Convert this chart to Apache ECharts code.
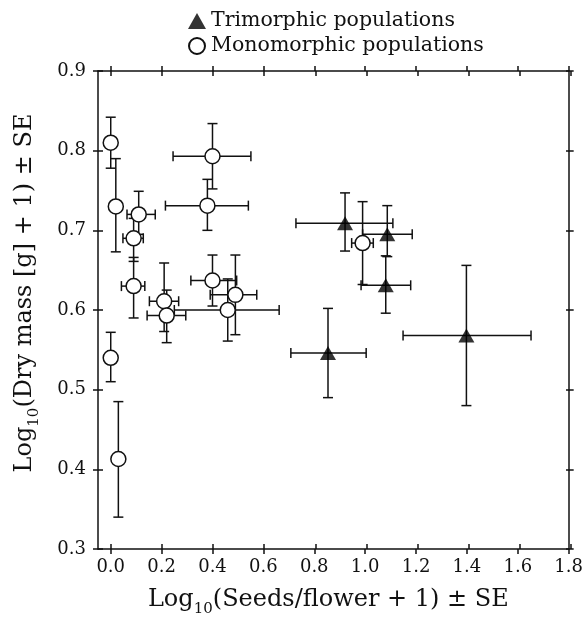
<!DOCTYPE html>
<html>
<head>
<meta charset="utf-8">
<script src="https://cdn.jsdelivr.net/npm/echarts@6/dist/echarts.min.js"></script>
<style>html,body{margin:0;padding:0;background:#fff}#c{width:586px;height:636px}</style>
</head>
<body>
<div id="c"></div>
<script>
// Tick values
var xTicks = [0.0, 0.2, 0.4, 0.6, 0.8, 1.0, 1.2, 1.4, 1.6, 1.8];
var yTicks = [0.3, 0.4, 0.5, 0.6, 0.7, 0.8, 0.9];

// Monomorphic populations (open circles)
var monoX   = [0.00, 0.02, 0.11, 0.09, 0.09, 0.00, 0.03, 0.21, 0.22, 0.40, 0.49, 0.46, 0.38, 0.40, 0.99];
var monoY   = [0.810, 0.730, 0.720, 0.690, 0.630, 0.540, 0.413, 0.611, 0.593, 0.637, 0.619, 0.600, 0.731, 0.793, 0.684];
var monoXLo = [0.00, 0.02, 0.064, 0.048, 0.042, 0.00, 0.03, 0.152, 0.143, 0.315, 0.391, 0.25, 0.215, 0.245, 0.947];
var monoXHi = [0.00, 0.02, 0.175, 0.128, 0.134, 0.00, 0.03, 0.267, 0.295, 0.495, 0.574, 0.662, 0.541, 0.551, 1.032];
var monoYLo = [0.778, 0.673, 0.695, 0.661, 0.590, 0.510, 0.340, 0.573, 0.559, 0.605, 0.569, 0.561, 0.700, 0.752, 0.632];
var monoYHi = [0.842, 0.790, 0.749, 0.715, 0.666, 0.572, 0.485, 0.659, 0.625, 0.669, 0.669, 0.639, 0.764, 0.834, 0.736];

// Trimorphic populations (filled triangles)
var triX   = [0.921, 1.087, 1.081, 1.398, 0.854];
var triY   = [0.709, 0.695, 0.631, 0.568, 0.546];
var triXLo = [0.728, 0.990, 0.984, 1.149, 0.708];
var triXHi = [1.109, 1.185, 1.179, 1.652, 1.004];
var triYLo = [0.674, 0.667, 0.596, 0.480, 0.490];
var triYHi = [0.747, 0.731, 0.668, 0.656, 0.602];

var seriesNames = ['Trimorphic populations', 'Monomorphic populations'];

function rows(x, y, xl, xh, yl, yh) {
  return x.map(function (v, i) { return [v, y[i], xl[i], xh[i], yl[i], yh[i]]; });
}
var monoRows = rows(monoX, monoY, monoXLo, monoXHi, monoYLo, monoYHi);
var triRows = rows(triX, triY, triXLo, triXHi, triYLo, triYHi);

var INK = '#111';
var FONT = 'DejaVu Serif';
var CAP = 5;

function errRender(params, api) {
  var x = api.value(0), y = api.value(1);
  var xl = api.value(2), xh = api.value(3), yl = api.value(4), yh = api.value(5);
  var st = { stroke: INK, lineWidth: 1.5, fill: null };
  var ch = [];
  function seg(a, b) { ch.push({ type: 'line', shape: { x1: a[0], y1: a[1], x2: b[0], y2: b[1] }, style: st }); }
  if (yh > yl) {
    var p1 = api.coord([x, yl]), p2 = api.coord([x, yh]);
    seg(p1, p2);
    seg([p1[0] - CAP, p1[1]], [p1[0] + CAP, p1[1]]);
    seg([p2[0] - CAP, p2[1]], [p2[0] + CAP, p2[1]]);
  }
  if (xh > xl) {
    var q1 = api.coord([xl, y]), q2 = api.coord([xh, y]);
    seg(q1, q2);
    seg([q1[0], q1[1] - CAP], [q1[0], q1[1] + CAP]);
    seg([q2[0], q2[1] - CAP], [q2[0], q2[1] + CAP]);
  }
  return { type: 'group', children: ch };
}

var lineStyle = { color: INK, width: 1.5 };
function xAx(grid, pos, inside, showLine, extra) {
  var o = {
    type: 'value', gridIndex: grid, position: pos, min: -0.05, max: 1.8,
    axisLine: { show: showLine, onZero: false, lineStyle: lineStyle },
    axisTick: { show: true, inside: inside, length: 5, customValues: xTicks, lineStyle: lineStyle },
    axisLabel: { show: false },
    splitLine: { show: false }
  };
  return Object.assign(o, extra || {});
}
function yAx(grid, pos, inside, showLine, extra) {
  var o = {
    type: 'value', gridIndex: grid, position: pos, min: 0.3, max: 0.9,
    axisLine: { show: showLine, onZero: false, lineStyle: lineStyle },
    axisTick: { show: true, inside: inside, length: 5, customValues: yTicks, lineStyle: lineStyle },
    axisLabel: { show: false },
    splitLine: { show: false }
  };
  return Object.assign(o, extra || {});
}

var titleRich = {
  a: { fontFamily: FONT, fontSize: 24, color: INK, lineHeight: 26, padding: [0, 0, 5, 0], verticalAlign: 'bottom' },
  s: { fontFamily: FONT, fontSize: 15, color: INK, lineHeight: 15, verticalAlign: 'bottom' }
};

var chart = echarts.init(document.getElementById('c'), null, { renderer: 'canvas' });
chart.setOption({
  backgroundColor: '#fff',
  animation: false,
  grid: [
    { left: 98, right: 15, top: 71, bottom: 87 },
    { left: 98, right: 15, top: 71, bottom: 87 }
  ],
  legend: {
    data: seriesNames,
    orient: 'vertical',
    left: 183, top: 5,
    itemGap: 3, itemWidth: 18, itemHeight: 16,
    selectedMode: false,
    textStyle: { fontFamily: FONT, fontSize: 20.5, color: INK, lineHeight: 22 }
  },
  xAxis: [
    xAx(0, 'bottom', false, true, {
      axisLabel: {
        show: true, customValues: xTicks, margin: 9,
        fontFamily: FONT, fontSize: 18, color: INK,
        formatter: function (v) { return v.toFixed(1); }
      },
      name: '{a|Log}{s|10}{a|(Seeds/flower + 1) ± SE}',
      nameLocation: 'middle', nameGap: 42,
      nameTextStyle: { rich: titleRich, padding: [0, 10, 0, 0] }
    }),
    xAx(0, 'top', false, true),
    xAx(1, 'bottom', true, false),
    xAx(1, 'top', true, false)
  ],
  yAxis: [
    yAx(0, 'left', false, true, {
      axisLabel: {
        show: true, customValues: yTicks, margin: 12,
        fontFamily: FONT, fontSize: 18, color: INK,
        formatter: function (v) { return v.toFixed(1); }
      },
      name: '{a|Log}{s|10}{a|(Dry mass [g] + 1) ± SE}',
      nameLocation: 'middle', nameGap: 56, nameRotate: 90,
      nameTextStyle: { rich: titleRich, padding: [0, 0, 0, 34] }
    }),
    yAx(0, 'right', false, true),
    yAx(1, 'left', true, false),
    yAx(1, 'right', true, false)
  ],
  series: [
    {
      type: 'custom', name: 'mono-err', xAxisIndex: 0, yAxisIndex: 0,
      renderItem: errRender, data: monoRows, encode: { x: 0, y: 1 }, z: 1, silent: true
    },
    {
      type: 'custom', name: 'tri-err', xAxisIndex: 0, yAxisIndex: 0,
      renderItem: errRender, data: triRows, encode: { x: 0, y: 1 }, z: 1, silent: true
    },
    {
      type: 'scatter', name: seriesNames[0], xAxisIndex: 0, yAxisIndex: 0,
      symbol: 'triangle', symbolSize: [16, 14],
      itemStyle: { color: '#000' },
      data: triX.map(function (v, i) { return [v, triY[i]]; }), z: 3
    },
    {
      type: 'scatter', name: seriesNames[1], xAxisIndex: 0, yAxisIndex: 0,
      symbol: 'circle', symbolSize: 15,
      itemStyle: { color: '#fff', borderColor: INK, borderWidth: 1.5, opacity: 1 },
      data: monoX.map(function (v, i) { return [v, monoY[i]]; }), z: 3
    }
  ]
});
</script>
</body>
</html>
